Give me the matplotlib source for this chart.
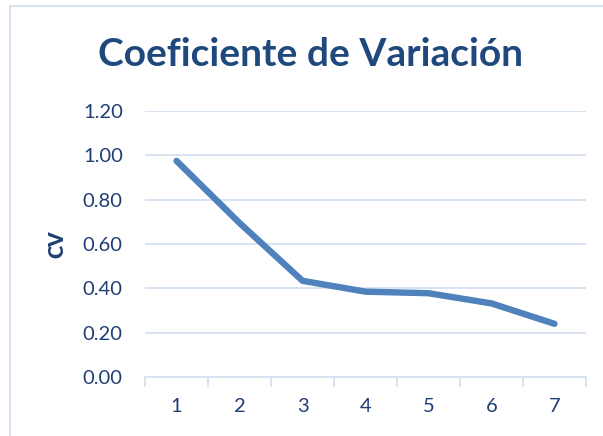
import numpy as np
import matplotlib
matplotlib.use("Agg")
import matplotlib.pyplot as plt
from matplotlib.patches import Rectangle

# data
categories = [1, 2, 3, 4, 5, 6, 7]
cv_values = [0.975, 0.695, 0.434, 0.385, 0.378, 0.332, 0.240]
y_ticks = [0.0, 0.2, 0.4, 0.6, 0.8, 1.0, 1.2]

plt.rcParams['font.family'] = ['Lato', 'DejaVu Sans']

text_col = '#1F3F73'
grid_col = '#D6E2F2'
line_col = '#4F81BD'

fig = plt.figure(figsize=(6.03, 4.36), dpi=100)
ax = fig.add_axes([0.2405, 0.1353, 0.7313, 0.6101])

# chart border (excel style frame)
fig.patches.append(Rectangle((10 / 603, -0.05), 1.0, 1 - 6 / 436 + 0.05,
                             transform=fig.transFigure, fill=False,
                             edgecolor=grid_col, lw=1.5))

x = np.arange(len(categories))
ax.plot(x, cv_values, color=line_col, lw=4.6, solid_capstyle='round',
        solid_joinstyle='round', zorder=3)

ax.set_xlim(-0.5, len(categories) - 0.5)
ax.set_ylim(0, 1.2)
ax.set_yticks(y_ticks)
ax.set_yticklabels([f"{v:.2f}" for v in y_ticks])
ax.set_xticks(x)
ax.set_xticklabels([str(c) for c in categories])
ax.set_xticks(np.arange(len(categories) + 1) - 0.5, minor=True)

ax.grid(axis='y', color=grid_col, lw=1.3, zorder=0)
for s in ['top', 'right', 'left']:
    ax.spines[s].set_visible(False)
ax.spines['bottom'].set_color(grid_col)
ax.spines['bottom'].set_linewidth(1.3)

ax.tick_params(axis='y', length=0, pad=16, labelsize=14.5, labelcolor=text_col)
ax.tick_params(axis='x', which='major', length=0, pad=15, labelsize=14.5,
               labelcolor=text_col)
ax.tick_params(axis='x', which='minor', length=7, width=1.3, color=grid_col)

ax.set_ylabel('CV', fontsize=14.5, fontweight='heavy', color=text_col, labelpad=12)
fig.text(0.515, 0.875, 'Coeficiente de Variación', ha='center', va='center',
         fontsize=28, fontweight='bold', color='#1F497D')

fig.savefig('out.png', dpi=100)
